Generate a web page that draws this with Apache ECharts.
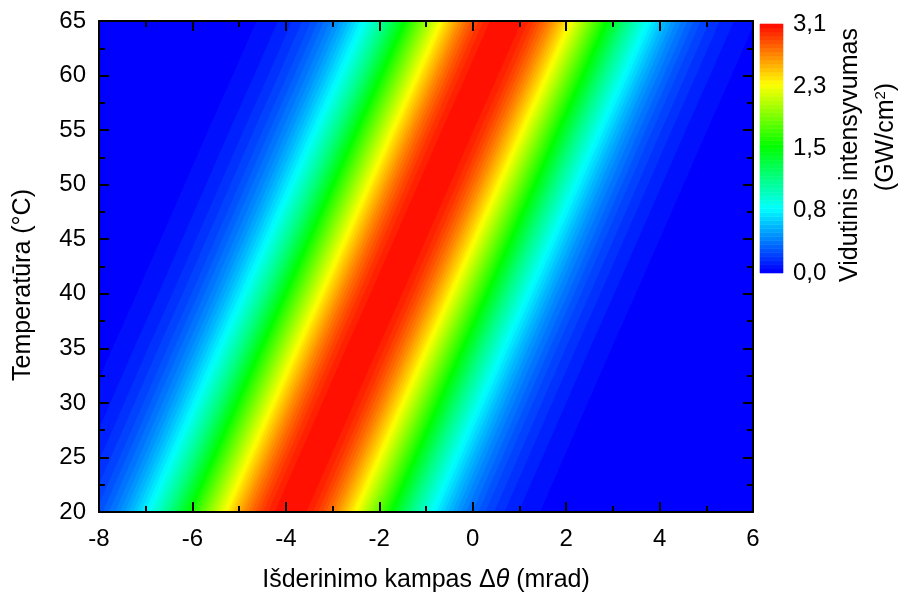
<!DOCTYPE html>
<html>
<head>
<meta charset="utf-8">
<script src="https://cdn.jsdelivr.net/npm/echarts@6/dist/echarts.min.js"></script>
<style>
  html, body { margin: 0; padding: 0; background: #fff; }
  #chart { width: 906px; height: 594px; }
</style>
</head>
<body>
<div id="chart"></div>
<script>
// Peak position of the intensity ridge (mrad) at each temperature (°C)
const temps = [20, 25, 30, 35, 40, 45, 50, 55, 60, 65];
const peakAngle = [-3.90, -3.39, -2.88, -2.37, -1.85, -1.34, -0.83, -0.32, 0.20, 0.71];

// Contour levels of mean intensity (GW/cm²) and the half-width of the ridge (mrad) at each level
const contourLevels = [0.05, 0.10, 0.15, 0.20, 0.25, 0.30, 0.35, 0.40, 0.45, 0.50,
  0.55, 0.60, 0.65, 0.70, 0.75, 0.80, 0.85, 0.90, 0.95, 1.00,
  1.05, 1.10, 1.15, 1.20, 1.25, 1.30, 1.35, 1.40, 1.45, 1.50,
  1.55, 1.60, 1.65, 1.70, 1.75, 1.80, 1.85, 1.90, 1.95, 2.00,
  2.05, 2.10, 2.15, 2.20, 2.25, 2.30, 2.35, 2.40, 2.45, 2.50,
  2.55, 2.60, 2.65, 2.70, 2.75, 2.80, 2.85, 2.90, 2.95, 3.00, 3.05];
const halfWidths = [5.34, 4.88, 4.58, 4.36, 4.17, 4.02, 3.89, 3.76, 3.65, 3.55,
  3.46, 3.37, 3.29, 3.21, 3.13, 3.06, 2.99, 2.93, 2.86, 2.80,
  2.74, 2.68, 2.62, 2.56, 2.51, 2.45, 2.40, 2.35, 2.29, 2.24,
  2.19, 2.14, 2.09, 2.04, 1.99, 1.94, 1.89, 1.84, 1.79, 1.74,
  1.69, 1.64, 1.59, 1.54, 1.49, 1.44, 1.38, 1.33, 1.28, 1.22,
  1.16, 1.10, 1.04, 0.98, 0.91, 0.84, 0.76, 0.68, 0.59, 0.48, 0.34];

const intensityMin = 0;
const intensityMax = 3.1;
const colorbarTickLabels = ['0,0', '0,8', '1,5', '2,3', '3,1'];

const FONT = 'Liberation Sans, Arial, Helvetica, sans-serif';
const BLACK = '#000000';

// filled contour bands: each level is the region between the left and right edge of the ridge
const fieldData = contourLevels.map((lv, i) => [lv, halfWidths[i]]);
// colour scale boxes: one box per level interval
const bounds = [intensityMin].concat(contourLevels, [intensityMax]);
const colorbarData = bounds.slice(0, -1).map((lo, i) => [lo, bounds[i + 1]]);

function mainAxisCommon() {
  return {
    axisLine: { show: true, onZero: false, lineStyle: { color: BLACK, width: 2 } },
    axisTick: { show: true, inside: true, length: 10, lineStyle: { color: BLACK, width: 2 } },
    minorTick: { show: true, splitNumber: 2, length: 6, lineStyle: { color: BLACK, width: 2 } },
    splitLine: { show: false },
    minorSplitLine: { show: false },
    z: 10
  };
}

const chart = echarts.init(document.getElementById('chart'), null, { renderer: 'canvas' });

const option = {
  backgroundColor: '#ffffff',
  animation: false,
  textStyle: { fontFamily: FONT },
  grid: [
    { left: 99, right: 153, top: 21, bottom: 82, show: true, backgroundColor: '#0000ff', borderWidth: 0 },
    { left: 760, width: 23, top: 24, height: 249, show: false }
  ],
  xAxis: [
    Object.assign(mainAxisCommon(), {
      type: 'value', gridIndex: 0, position: 'bottom', min: -8, max: 6, interval: 2,
      axisLabel: { show: true, color: BLACK, fontSize: 24, fontFamily: FONT, margin: 15 }
    }),
    Object.assign(mainAxisCommon(), {
      type: 'value', gridIndex: 0, position: 'top', min: -8, max: 6, interval: 2,
      axisLabel: { show: false }
    }),
    {
      type: 'value', gridIndex: 1, min: 0, max: 1, show: false
    }
  ],
  yAxis: [
    Object.assign(mainAxisCommon(), {
      type: 'value', gridIndex: 0, position: 'left', min: 20, max: 65, interval: 5,
      axisLabel: { show: true, color: BLACK, fontSize: 24, fontFamily: FONT, margin: 13 }
    }),
    Object.assign(mainAxisCommon(), {
      type: 'value', gridIndex: 0, position: 'right', min: 20, max: 65, interval: 5,
      axisLabel: { show: false }
    }),
    {
      type: 'value', gridIndex: 1, position: 'right', min: intensityMin, max: intensityMax,
      interval: (intensityMax - intensityMin) / (colorbarTickLabels.length - 1),
      axisLine: { show: false }, axisTick: { show: false }, splitLine: { show: false },
      axisLabel: {
        show: true, color: BLACK, fontSize: 24, fontFamily: FONT, margin: 10,
        formatter: function (v) {
          const step = (intensityMax - intensityMin) / (colorbarTickLabels.length - 1);
          return colorbarTickLabels[Math.round((v - intensityMin) / step)];
        }
      }
    }
  ],
  visualMap: {
    type: 'continuous', show: false, min: intensityMin, max: intensityMax,
    dimension: 0, seriesIndex: [0, 1],
    inRange: { color: ['#0000ff', '#00ffff', '#00ff00', '#ffff00', '#ff0000'] }
  },
  series: [
    {
      type: 'custom',
      name: 'intensity',
      xAxisIndex: 0, yAxisIndex: 0,
      clip: true,
      silent: true,
      encode: { x: 1, y: 0 },
      data: fieldData,
      renderItem: function (params, api) {
        const hw = api.value(1);
        const leftEdge = [];
        const rightEdge = [];
        for (let i = 0; i < temps.length; i++) {
          leftEdge.push(api.coord([peakAngle[i] - hw, temps[i]]));
          rightEdge.push(api.coord([peakAngle[i] + hw, temps[i]]));
        }
        rightEdge.reverse();
        return {
          type: 'polygon',
          shape: { points: leftEdge.concat(rightEdge) },
          style: { fill: api.visual('color') }
        };
      }
    },
    {
      type: 'custom',
      name: 'scale',
      xAxisIndex: 2, yAxisIndex: 2,
      silent: true,
      encode: { x: 0, y: 1 },
      data: colorbarData,
      renderItem: function (params, api) {
        const p0 = api.coord([0, api.value(0)]);
        const p1 = api.coord([1, api.value(1)]);
        const c = api.visual('color');
        return {
          type: 'rect',
          shape: { x: p0[0], y: p1[1], width: p1[0] - p0[0], height: p0[1] - p1[1] },
          style: { fill: c, stroke: c, lineWidth: 0.6 }
        };
      }
    }
  ],
  graphic: [
    {
      type: 'text', x: 426, y: 580, silent: true,
      style: {
        text: 'Išderinimo kampas Δ{it|θ} (mrad)',
        fill: BLACK, font: '25px ' + FONT, align: 'center', verticalAlign: 'middle',
        rich: { it: { fontStyle: 'italic', fontSize: 25, fontFamily: FONT, fill: BLACK } }
      }
    },
    {
      type: 'text', x: 23, y: 285, rotation: Math.PI / 2, silent: true,
      style: { text: 'Temperatūra (°C)', fill: BLACK, font: '25px ' + FONT, align: 'center', verticalAlign: 'middle' }
    },
    {
      type: 'text', x: 850, y: 155, rotation: Math.PI / 2, silent: true,
      style: { text: 'Vidutinis intensyvumas', fill: BLACK, font: '25px ' + FONT, align: 'center', verticalAlign: 'middle' }
    },
    {
      type: 'text', x: 886, y: 137, rotation: Math.PI / 2, silent: true,
      style: {
        text: '(GW/cm{sup|2})', fill: BLACK, font: '25px ' + FONT, align: 'center', verticalAlign: 'middle',
        rich: { sup: { fontSize: 15, fontFamily: FONT, fill: BLACK, verticalAlign: 'top', padding: [0, 0, 10, 0] } }
      }
    }
  ]
};

chart.setOption(option);
</script>
</body>
</html>
